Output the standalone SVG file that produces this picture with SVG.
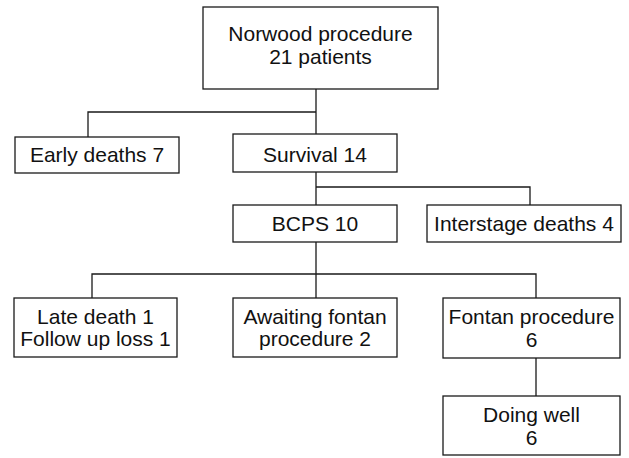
<svg xmlns="http://www.w3.org/2000/svg" width="629" height="458" viewBox="0 0 629 458">
<style>
.box{fill:#fff;stroke:#1a1a1a;stroke-width:1.3}
.c{fill:none;stroke:#1a1a1a;stroke-width:1.3}
text{font-family:"Liberation Sans",Arial,sans-serif;font-size:21px;fill:#111;text-anchor:middle}
</style>
<rect width="629" height="458" fill="#fff"/>
<g id="connectors">
<path class="c" d="M316,89 V134 M316,112 H88 V137 M316,172 V205 M316,187 H530 V205 M316,242 V298 M92,298 V274 H536 V298 M536,358 V396"/>
</g>
<g id="norwood"><rect class="box" x="203" y="7" width="235" height="82"/><text x="320.5" y="41">Norwood procedure</text><text x="320.5" y="64">21 patients</text></g>
<g id="early"><rect class="box" x="15" y="137" width="164" height="36"/><text x="97" y="162">Early deaths 7</text></g>
<g id="survival"><rect class="box" x="233" y="134" width="164" height="38"/><text x="315" y="162">Survival 14</text></g>
<g id="bcps"><rect class="box" x="233" y="205" width="164" height="37"/><text x="315" y="231">BCPS 10</text></g>
<g id="interstage"><rect class="box" x="427" y="205" width="194" height="37"/><text x="524" y="231">Interstage deaths 4</text></g>
<g id="late"><rect class="box" x="14" y="298" width="163" height="59"/><text x="95.5" y="324">Late death 1</text><text x="95.5" y="346">Follow up loss 1</text></g>
<g id="awaiting"><rect class="box" x="233" y="298" width="164" height="59"/><text x="315" y="324">Awaiting fontan</text><text x="315" y="346">procedure 2</text></g>
<g id="fontan"><rect class="box" x="443" y="298" width="177" height="60"/><text x="531.5" y="324">Fontan procedure</text><text x="531.5" y="347">6</text></g>
<g id="doingwell"><rect class="box" x="443" y="396" width="177" height="59"/><text x="531.5" y="422">Doing well</text><text x="531.5" y="445">6</text></g>
</svg>
